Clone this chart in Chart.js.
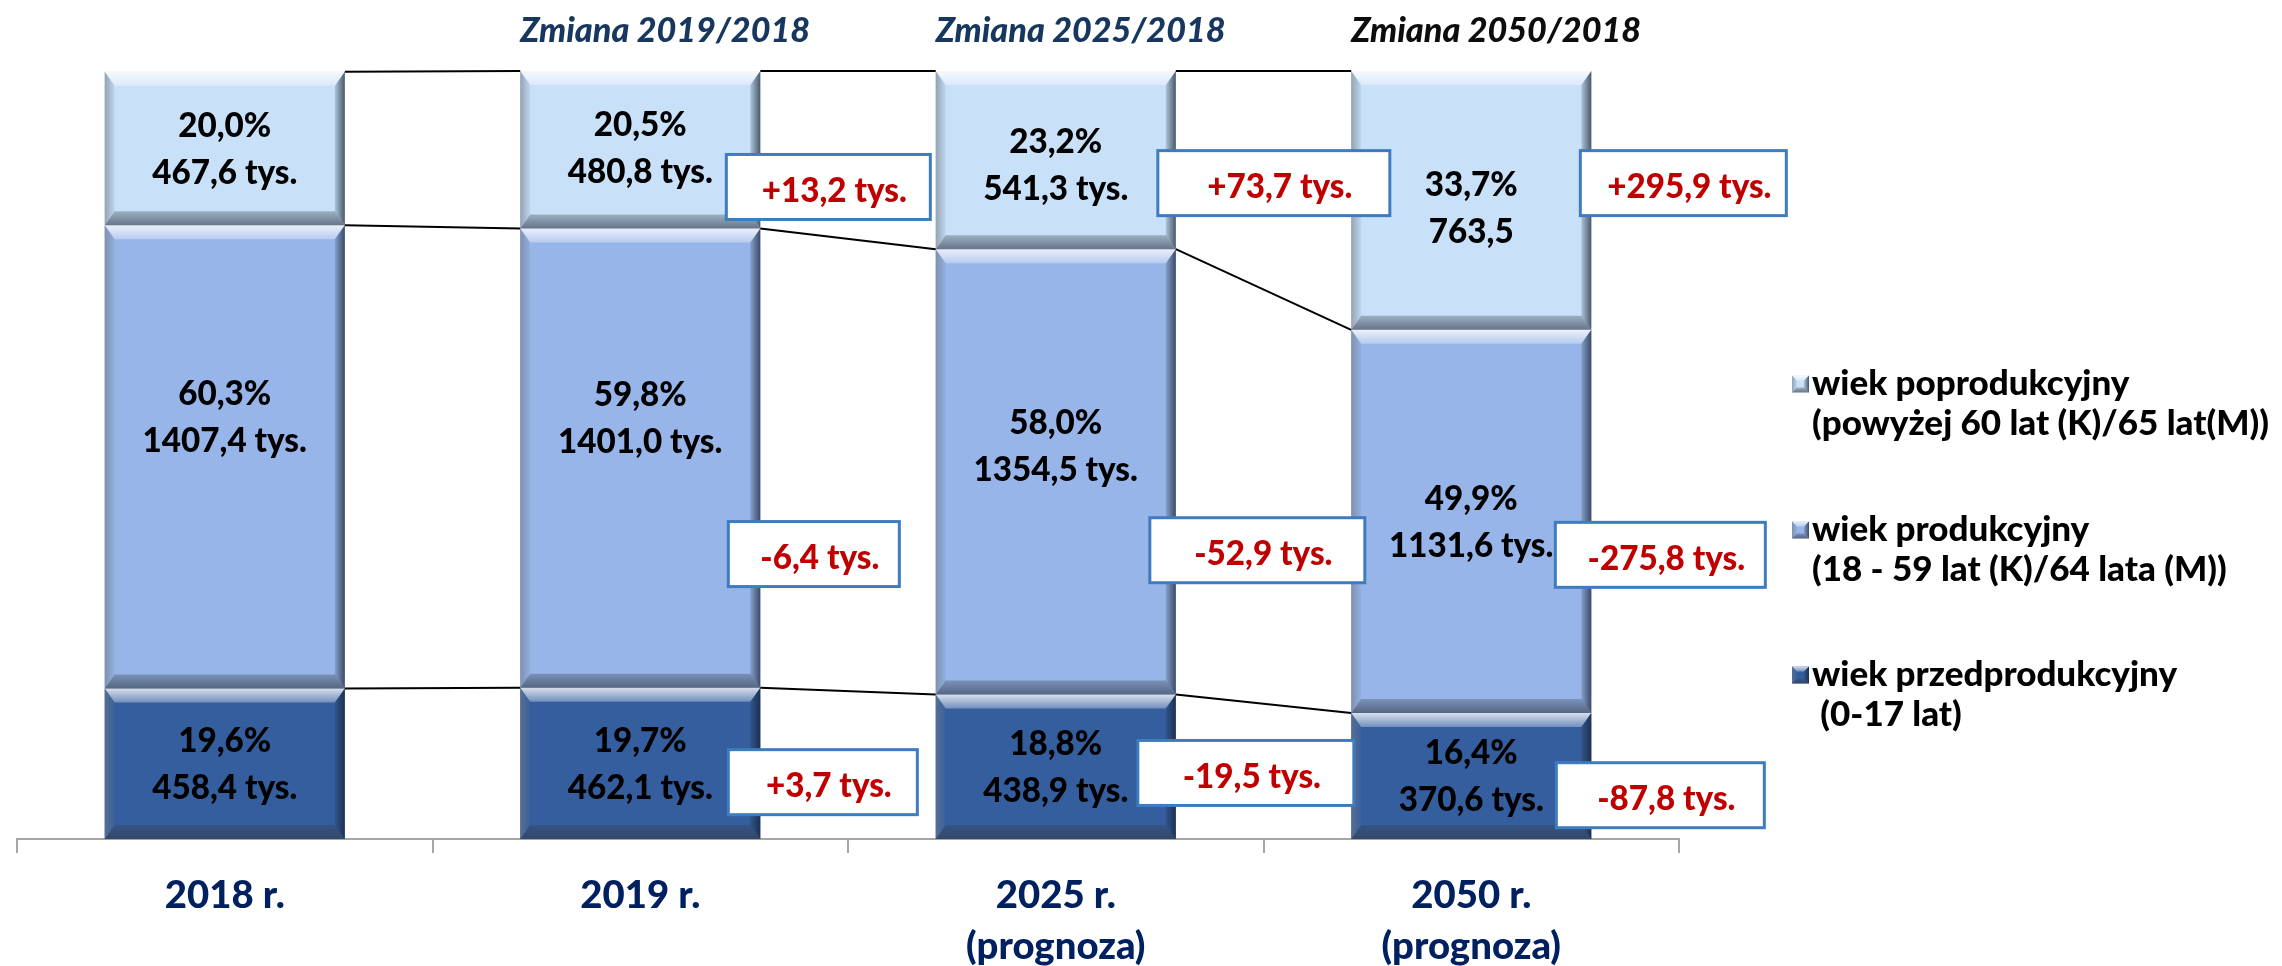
<!DOCTYPE html>
<html>
<head>
<meta charset="utf-8">
<script src="https://cdn.jsdelivr.net/npm/chart.js@4.4.1/dist/chart.umd.min.js"></script>
<style>
  html, body { margin: 0; padding: 0; background: #fff; }
</style>
</head>
<body>
<canvas id="chart" width="2282" height="966"></canvas>
<script>
// kategorie (lata)
const years = ['2018 r.', '2019 r.', ['2025 r.', '(prognoza)'], ['2050 r.', '(prognoza)']];
const changeTitles = ['', 'Zmiana 2019/2018', 'Zmiana 2025/2018', 'Zmiana 2050/2018'];

// udzial procentowy grup wieku
const pctPre = [19.6, 19.7, 18.8, 16.4];
const pctWork = [60.3, 59.8, 58.0, 49.9];
const pctPost = [20.0, 20.5, 23.2, 33.7];

// liczba ludnosci w tys.
const numPre = [458.4, 462.1, 438.9, 370.6];
const numWork = [1407.4, 1401.0, 1354.5, 1131.6];
const numPost = [467.6, 480.8, 541.3, 763.5];
const unitsPost = ['tys.', 'tys.', 'tys.', ''];

// zmiana wzgledem 2018 r. (tys.)
const diffPre = [null, 3.7, -19.5, -87.8];
const diffWork = [null, -6.4, -52.9, -275.8];
const diffPost = [null, 13.2, 73.7, 295.9];

const FONT = 'Lato';
const W = '900';
const fmt = (v) => v.toFixed(1).replace('.', ',');
const fmtDiff = (v) => (v > 0 ? '+' : '') + fmt(v) + ' tys.';

// dobor wielkosci czcionki do szerokosci tekstu z oryginalu (Calibri)
const mctx = document.createElement('canvas').getContext('2d');
function fitSize(text, target, style) {
  mctx.font = style + ' 100px ' + FONT;
  return Math.round(1000 * target / mctx.measureText(text).width) / 10;
}
const LABEL_PX = fitSize('467,6 tys.', 145, W);
const TITLE_PX = fitSize('Zmiana 2025/2018', 290, 'italic ' + W);
const AXIS_PX = fitSize('2018 r.', 120, W);
const LEGEND_PX = fitSize('wiek poprodukcyjny', 317, W);

function poly(ctx, pts, fill) {
  ctx.beginPath();
  ctx.moveTo(pts[0][0], pts[0][1]);
  for (let k = 1; k < pts.length; k++) ctx.lineTo(pts[k][0], pts[k][1]);
  ctx.closePath();
  ctx.fillStyle = fill;
  ctx.fill();
}

// efekt "bevel" jak w Excelu
function bevel(ctx, L, T, R, B, b, s) {
  let g = ctx.createLinearGradient(0, T, 0, T + b);
  g.addColorStop(0, 'rgba(255,255,255,0.8)');
  g.addColorStop(1, 'rgba(255,255,255,0.3)');
  poly(ctx, [[L, T], [R, T], [R - s, T + b], [L + s, T + b]], g);

  g = ctx.createLinearGradient(0, B - b, 0, B);
  g.addColorStop(0, 'rgba(50,60,75,0.3)');
  g.addColorStop(1, 'rgba(50,60,75,0.65)');
  poly(ctx, [[L, B], [R, B], [R - s, B - b], [L + s, B - b]], g);

  g = ctx.createLinearGradient(L, 0, L + s, 0);
  g.addColorStop(0, 'rgba(110,120,135,0.6)');
  g.addColorStop(1, 'rgba(110,120,135,0.1)');
  poly(ctx, [[L, T], [L + s, T + b], [L + s, B - b], [L, B]], g);

  g = ctx.createLinearGradient(R - s, 0, R, 0);
  g.addColorStop(0, 'rgba(20,30,45,0.15)');
  g.addColorStop(1, 'rgba(20,30,45,0.7)');
  poly(ctx, [[R, T], [R - s, T + b], [R - s, B - b], [R, B]], g);
}

const decorPlugin = {
  id: 'decor',
  afterDatasetsDraw(chart, args, opts) {
    const ctx = chart.ctx;
    const sets = chart.data.datasets;
    const yScale = chart.scales.y;
    const capOff = 0.36;
    ctx.save();

    sets.forEach((ds, i) => {
      chart.getDatasetMeta(i).data.forEach((el) => {
        bevel(ctx, el.x - el.width / 2, el.y, el.x + el.width / 2, el.base, 14, 10);
      });
    });

    // linie laczace slupki
    ctx.strokeStyle = '#000';
    ctx.lineWidth = 2;
    sets.forEach((ds, i) => {
      const els = chart.getDatasetMeta(i).data;
      for (let j = 0; j < els.length - 1; j++) {
        const a = els[j], b = els[j + 1];
        ctx.beginPath();
        ctx.moveTo(a.x + a.width / 2, a.y);
        ctx.lineTo(b.x - b.width / 2, b.y);
        ctx.stroke();
      }
    });

    // etykiety danych
    ctx.fillStyle = '#000';
    ctx.font = W + ' ' + LABEL_PX + 'px ' + FONT;
    ctx.textAlign = 'center';
    ctx.textBaseline = 'alphabetic';
    sets.forEach((ds, i) => {
      chart.getDatasetMeta(i).data.forEach((el, j) => {
        const cy = (el.y + el.base) / 2 + opts.labelShift[i][j];
        const unit = ds.units ? ds.units[j] : 'tys.';
        const base = capOff * LABEL_PX;
        ctx.fillText(fmt(ds.data[j]) + '%', el.x, cy - 23.5 + base);
        ctx.fillText((fmt(ds.counts[j]) + ' ' + unit).trim(), el.x, cy + 23.5 + base);
      });
    });

    // ramki ze zmiana
    sets.forEach((ds, i) => {
      chart.getDatasetMeta(i).data.forEach((el, j) => {
        const d = ds.diffs[j];
        if (d === null) return;
        const txt = fmtDiff(d);
        const w = opts.boxW[i][j], h = 65;
        const left = el.x + el.width / 2 + opts.boxDx[i][j];
        const cy = yScale.getPixelForValue(opts.boxAnchor[i][j]);
        ctx.fillStyle = '#fff';
        ctx.fillRect(left, cy - h / 2, w, h);
        ctx.strokeStyle = '#3E7CC0';
        ctx.lineWidth = 3;
        ctx.strokeRect(left, cy - h / 2, w, h);
        ctx.font = W + ' ' + LABEL_PX + 'px ' + FONT;
        ctx.fillStyle = '#C00000';
        ctx.textAlign = 'center';
        ctx.fillText(txt, left + w / 2 + 6, cy + 3 + capOff * LABEL_PX);
      });
    });

    // tytuly "Zmiana ..."
    const first = chart.getDatasetMeta(0).data;
    ctx.font = 'italic ' + W + ' ' + TITLE_PX + 'px ' + FONT;
    ctx.textAlign = 'left';
    changeTitles.forEach((t, j) => {
      if (!t) return;
      ctx.fillStyle = j === changeTitles.length - 1 ? '#0D0D0D' : '#17375E';
      ctx.fillText(t, first[j].x - first[j].width / 2, 30 + capOff * TITLE_PX);
    });

    // legenda
    const items = sets.slice().reverse();
    ctx.font = W + ' ' + LEGEND_PX + 'px ' + FONT;
    ctx.textBaseline = 'middle';
    items.forEach((ds, k) => {
      const y0 = opts.legendY[k];
      const mx = 1792, ms = 17;
      ctx.fillStyle = ds.backgroundColor;
      ctx.fillRect(mx, y0 - ms / 2, ms, ms);
      bevel(ctx, mx, y0 - ms / 2, mx + ms, y0 + ms / 2, 5, 5);
      ctx.fillStyle = '#000';
      ds.legendLines.forEach((line, n) => {
        ctx.fillText(line, 1812, y0 + n * 40);
      });
    });

    ctx.restore();
  }
};

const chart = new Chart(document.getElementById('chart'), {
  type: 'bar',
  data: {
    labels: years,
    datasets: [
      {
        label: 'wiek przedprodukcyjny',
        legendLines: ['wiek przedprodukcyjny', ' (0-17 lat)'],
        data: pctPre, counts: numPre, diffs: diffPre,
        backgroundColor: '#355E9F'
      },
      {
        label: 'wiek produkcyjny',
        legendLines: ['wiek produkcyjny', '(18 - 59 lat (K)/64 lata (M))'],
        data: pctWork, counts: numWork, diffs: diffWork,
        backgroundColor: '#98B5E9'
      },
      {
        label: 'wiek poprodukcyjny',
        legendLines: ['wiek poprodukcyjny', '(powyżej 60 lat (K)/65 lat(M))'],
        data: pctPost, counts: numPost, units: unitsPost, diffs: diffPost,
        backgroundColor: '#C9E1F8'
      }
    ]
  },
  options: {
    responsive: false,
    animation: false,
    devicePixelRatio: 1,
    layout: { padding: { left: 17, right: 603, top: 71, bottom: 0 } },
    datasets: { bar: { barPercentage: 0.578, categoryPercentage: 1, borderWidth: 0 } },
    plugins: {
      legend: { display: false },
      tooltip: { enabled: false },
      decor: {
        // polozenie ramek (os y w %), przesuniecie od prawej krawedzi slupka, szerokosc
        boxAnchor: [[0, 7.4, 8.6, 5.7], [0, 37.1, 37.6, 37.0], [0, 84.9, 85.4, 85.4]],
        boxDx: [[0, -32, -38, -35], [0, -32, -26, -36], [0, -34, -18, -11]],
        boxW: [[0, 189, 216, 208], [0, 171, 215, 210], [0, 204, 232, 206]],
        legendY: [384, 530, 675],
        labelShift: [[0, 0, 0, 0], [-40, -41, -26, 0], [0, -2, 4, 7]]
      }
    },
    scales: {
      x: {
        stacked: true,
        grid: { offset: true, drawOnChartArea: false, drawTicks: true, tickLength: 14, color: '#A6A6A6', lineWidth: 2 },
        border: { display: true, color: '#A6A6A6', width: 2 },
        ticks: {
          color: '#002060',
          font: { family: FONT, weight: W, size: AXIS_PX, lineHeight: '51px' },
          padding: 17,
          maxRotation: 0,
          autoSkip: false
        },
        afterFit: (s) => { s.height = 127; }
      },
      y: { stacked: true, display: false, min: 0, max: 100 }
    }
  },
  plugins: [decorPlugin]
});
</script>
</body>
</html>
